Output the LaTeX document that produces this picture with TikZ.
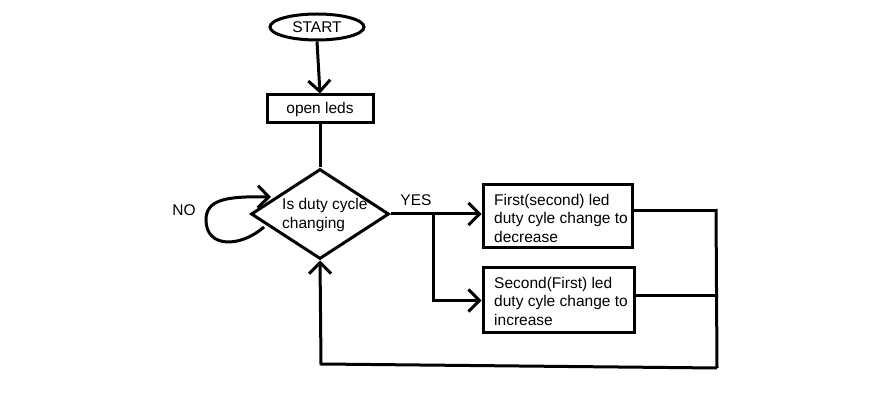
\documentclass[tikz,border=0pt]{standalone}
\usepackage{fontspec}
\setmainfont{Liberation Sans}
\usetikzlibrary{shapes.geometric,arrows.meta}
\begin{document}
\begin{tikzpicture}[x=1pt,y=-1pt,
  every node/.style={font=\fontsize{15.5}{18.5}\selectfont},
  ln/.style={line width=3pt},
  arr/.style={ln,-{Straight Barb[length=11pt,width=22pt]}},
  box/.style={draw,line width=3pt,rectangle,inner sep=0pt},
  txt/.style={inner sep=0pt,align=left,anchor=west}]
\useasboundingbox (0,0) rectangle (870,419);
\node[draw,line width=3pt,ellipse,minimum width=94pt,minimum height=26pt,inner sep=0pt] (start) at (317,27) {START};
\node[box,minimum width=106pt,minimum height=28pt] (open) at (320,109) {open leds};
\node[draw,line width=3pt,diamond,minimum width=138pt,minimum height=90pt,inner sep=0pt] (dec) at (320,214) {};
\node[txt] (dectext) at (282,215) {Is duty cycle\\changing};
\node[box,minimum width=149pt,minimum height=63pt] (b1) at (557.5,216.5) {};
\node[txt] (b1t) at (494,218) {First(second) led\\duty cyle change to\\decrease};
\node[box,minimum width=151pt,minimum height=65pt] (b2) at (558.5,300.5) {};
\node[txt] (b2t) at (494,301) {Second(First) led\\duty cyle change to\\increase};
\node[inner sep=0pt] (no) at (184,210) {NO};
\node[inner sep=0pt] (yes) at (416,200) {YES};
\coordinate (split) at (433,214);
\coordinate (bus1) at (716,211);
\coordinate (bus2) at (716,296);
\coordinate (bustop) at (716,209);
\coordinate (busbot) at (717,368);
\coordinate (botleft) at (321,364);
\coordinate (loopstart) at (264,227);
\coordinate (loopend) at (271,197);
\draw[arr] (start.south) -- (open.north);
\draw[ln] (open.south) -- (dec.north);
\draw[arr] (dec.east) -- (dec.east -| b1.west);
\draw[arr] (split) |- (b2.west);
\draw[ln] (b1.east |- bus1) -- (bus1);
\draw[ln] (b2.east |- bus2) -- (bus2);
\draw[ln] (bustop) -- (busbot);
\draw[arr] (busbot) -- (botleft) -- (dec.south);
\draw[arr] (loopstart) .. controls (240,248) and (206,248) .. (206,220) .. controls (206,200) and (225,196) .. (loopend);
\end{tikzpicture}
\end{document}
